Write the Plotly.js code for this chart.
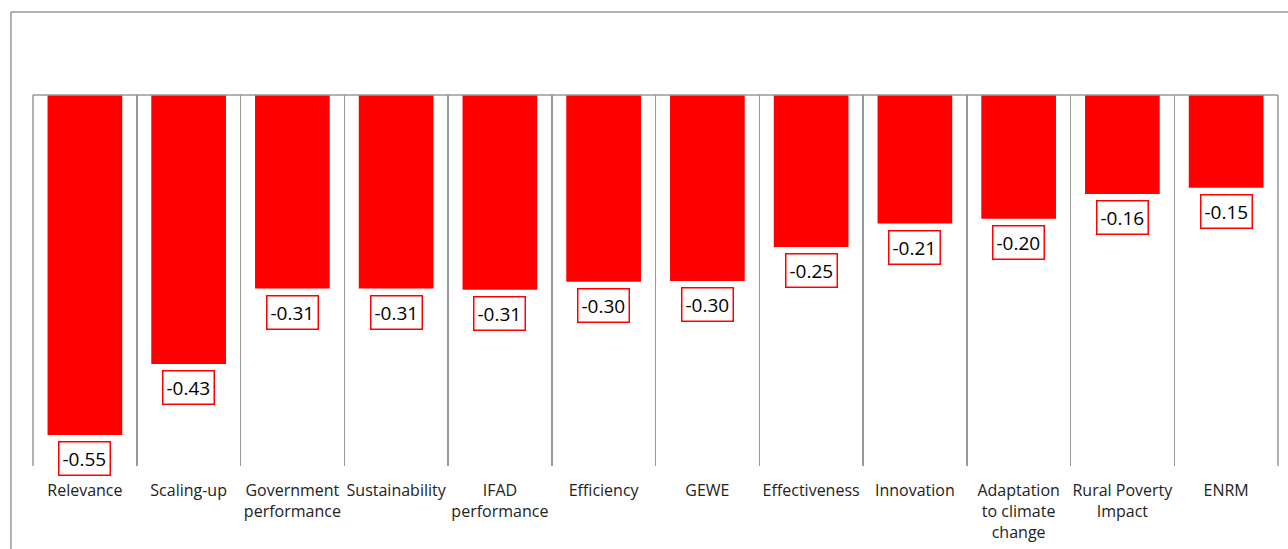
<!DOCTYPE html>
<html><head><meta charset="utf-8">
<script src="https://cdn.plot.ly/plotly-3.0.1.min.js"></script>
<style>html,body{margin:0;padding:0;background:#fff}#chart{width:1288px;height:549px}</style>
</head><body><div id="chart"></div>
<script>
const categories = ["Relevance","Scaling-up","Government<br>performance","Sustainability","IFAD<br>performance","Efficiency","GEWE","Effectiveness","Innovation","Adaptation<br>to climate<br>change","Rural Poverty<br>Impact","ENRM"];
const values = [-0.55,-0.435,-0.313,-0.313,-0.315,-0.302,-0.301,-0.246,-0.208,-0.200,-0.160,-0.150];
const labels = ["-0.55","-0.43","-0.31","-0.31","-0.31","-0.30","-0.30","-0.25","-0.21","-0.20","-0.16","-0.15"];

const FONT = "Open Sans, Noto Sans, sans-serif";
const trace = {type:"bar", x:categories, y:values, marker:{color:"#FF0000"}, width:0.72, hoverinfo:"none"};

const annotations = categories.map((c,i)=>({
  x:c, y:values[i], xref:"x", yref:"y", text:labels[i], showarrow:false,
  yanchor:"top", yshift:-6, bgcolor:"#fff", bordercolor:"#FF0000", borderwidth:1.5, borderpad:3,
  font:{family:FONT, size:19, color:"#000"}
}));

const layout = {
  width:1288, height:549,
  margin:{l:33, r:10, t:95, b:83},
  paper_bgcolor:"#fff", plot_bgcolor:"#fff",
  showlegend:false,
  bargap:0.28,
  xaxis:{type:"category", tickson:"boundaries", showgrid:true, gridcolor:"#999", gridwidth:1.5,
         ticks:"", tickangle:0, tickfont:{family:FONT, size:16, color:"#222"}, showline:false, zeroline:false,
         ticklabelstandoff:13, fixedrange:true},
  yaxis:{range:[-0.6,0], showgrid:false, zeroline:false, showticklabels:false, ticks:"", showline:false, fixedrange:true},
  annotations:annotations,
  shapes:[
    {type:"line", xref:"paper", yref:"paper", x0:0, x1:1, y0:1, y1:1, line:{color:"#999", width:1.5}},
    {type:"line", xref:"paper", yref:"paper", x0:0, x1:0, y0:0, y1:1, line:{color:"#999", width:1.5}},
    {type:"line", xref:"paper", yref:"paper", x0:1, x1:1, y0:0, y1:1, line:{color:"#999", width:1.5}},
    {type:"line", xref:"paper", yref:"paper", x0:-0.0177, x1:1.05, y0:1.2237, y1:1.2237, line:{color:"#999", width:1.5}},
    {type:"line", xref:"paper", yref:"paper", x0:-0.0177, x1:-0.0177, y0:-0.3, y1:1.2237, line:{color:"#999", width:1.5}}
  ]
};
Plotly.newPlot("chart",[trace],layout,{displayModeBar:false, staticPlot:true});
</script></body></html>
